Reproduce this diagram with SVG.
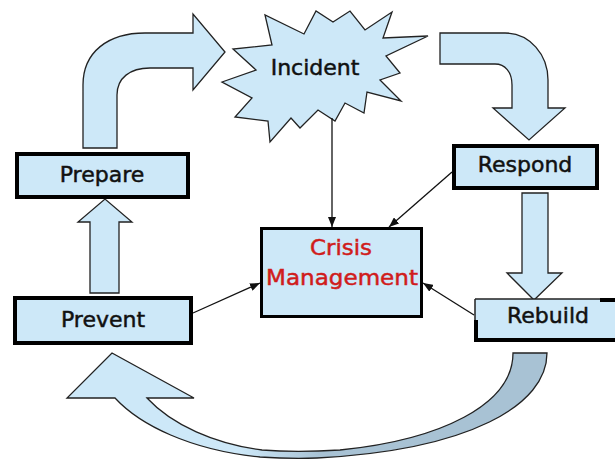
<svg xmlns="http://www.w3.org/2000/svg" width="615" height="462" viewBox="0 0 615 462">
<style>
.blk{fill:#cde8f8;stroke:#222;stroke-width:1.3;stroke-linejoin:miter}
.box{fill:#cde8f8;stroke:#000;stroke-width:4}
.lbl{font-family:"DejaVu Sans",sans-serif;font-size:22px;fill:#111;stroke:#111;stroke-width:0.5;text-anchor:middle}
.red{font-family:"DejaVu Sans",sans-serif;font-size:21.5px;fill:#d01c1c;stroke:#d01c1c;stroke-width:0.5;text-anchor:middle}
.con{stroke:#111;stroke-width:1.3;fill:none;marker-end:url(#ah)}
</style>
<defs>
<marker id="ah" viewBox="0 0 10 8" refX="10" refY="4" markerWidth="10" markerHeight="8" markerUnits="userSpaceOnUse" orient="auto">
<path d="M0,0 L10,4 L0,8 Z" fill="#111"/>
</marker>
<linearGradient id="g1" gradientUnits="userSpaceOnUse" x1="240" y1="0" x2="320" y2="0">
<stop offset="0" stop-color="#cde8f8"/>
<stop offset="1" stop-color="#a8c2d4"/>
</linearGradient>
</defs>
<rect width="615" height="462" fill="#fff"/>

<g id="flow-arrows">
<path class="blk" d="M83,148 L83,85 C83,52 108,33 145,33 L193,33 L193,14 L225,52 L193,90 L193,68 L150,68 C130,68 117,78 117,95 L117,148 Z"/>
<path class="blk" d="M440,33 L505,33 C530,33 548,55 548,80 L548,108 L565,108 L529,140 L493,108 L512,108 L512,85 C512,72 505,64 495,64 L440,64 Z"/>
<path class="blk" d="M522,193 L548,193 L548,273 L562,273 L534,300 L507,273 L522,273 Z"/>
<path class="blk" d="M90,293 L119,293 L119,222 L132,222 L105,199 L78,222 L90,222 Z"/>
<path d="M547,353 C547,405 470,450 317,458 C290,459 275,458 260,457 C190,450 140,425 115,398 L67,398 L112,353 L194,398 L147,398 C172,425 215,444 262,450 C285,452 310,452 340,450 C440,440 513,405 513,353 Z" fill="url(#g1)" stroke="#222" stroke-width="1.3"/>
</g>

<g id="incident">
<polygon class="blk" points="222,82 256,70 233,49 272,45 265,15 304,34 316,11 333,22 350,11 365,30 392,12 383,38 428,36 386,56 400,73 380,80 401,101 367,92 364,113 345,103 335,121 318,110 300,128 291,118 270,142 268,121 235,117 252,98"/>
<text class="lbl" x="315" y="75">Incident</text>
</g>

<g id="prepare">
<rect class="box" x="17" y="154" width="171" height="43"/>
<text class="lbl" x="102" y="182">Prepare</text>
</g>

<g id="prevent">
<rect class="box" x="15" y="298" width="176" height="45"/>
<text class="lbl" x="103" y="327">Prevent</text>
</g>

<g id="respond">
<rect class="box" x="454" y="146" width="143" height="42"/>
<text class="lbl" x="525" y="172">Respond</text>
</g>

<g id="rebuild">
<rect x="475" y="299" width="145" height="40" fill="#cde8f8"/>
<path d="M475,299 L600,299 M475,299 L475,322" stroke="#222" stroke-width="1.5" fill="none"/>
<path d="M600,300 L615,300 M476,320 L476,340 L615,340" stroke="#000" stroke-width="4" fill="none"/>
<text class="lbl" x="548" y="323">Rebuild</text>
</g>

<g id="crisis">
<rect x="261.5" y="228.5" width="160" height="88" fill="#cde8f8" stroke="#000" stroke-width="3"/>
<text class="red" x="341" y="255" textLength="62" lengthAdjust="spacingAndGlyphs">Crisis</text>
<text class="red" x="342" y="285" textLength="152" lengthAdjust="spacingAndGlyphs">Management</text>
</g>

<g id="connectors">
<line class="con" x1="332" y1="118" x2="332" y2="227"/>
<line class="con" x1="452" y1="172" x2="389" y2="227"/>
<line class="con" x1="193" y1="313" x2="260" y2="283"/>
<line class="con" x1="474" y1="315" x2="423" y2="283"/>
</g>
</svg>
